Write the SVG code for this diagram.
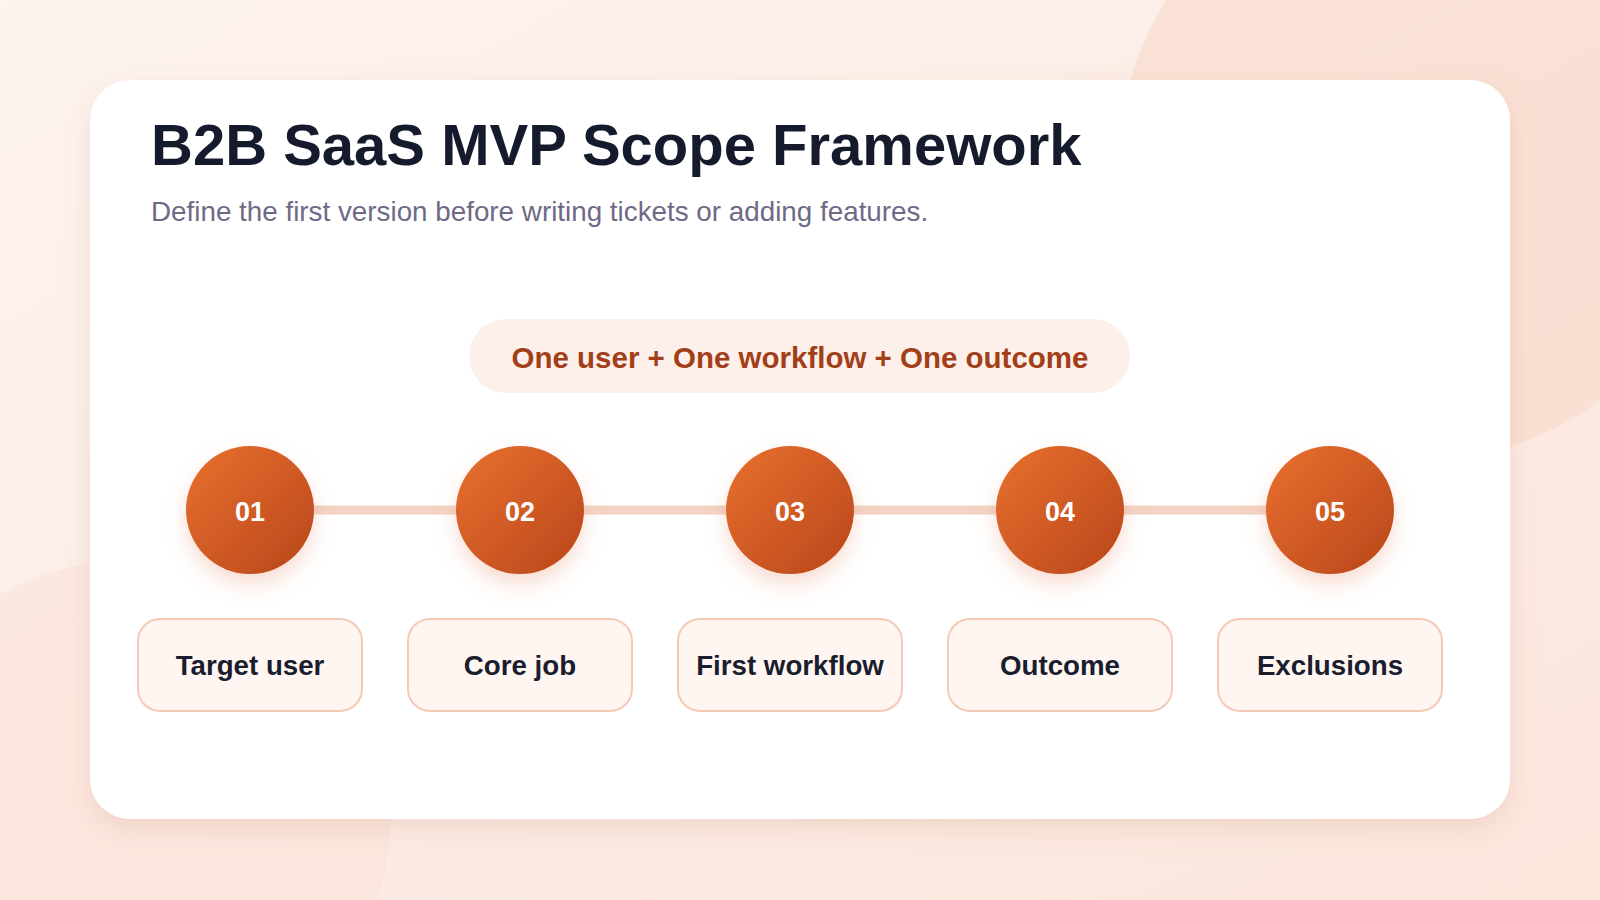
<svg xmlns="http://www.w3.org/2000/svg" width="1600" height="900" viewBox="0 0 1600 900">
<defs>
<linearGradient id="bg" x1="0" y1="0" x2="1" y2="1"><stop offset="0" stop-color="#fdf3ef"/><stop offset="1" stop-color="#fbe6dc"/></linearGradient>
<linearGradient id="cg" x1="0" y1="0" x2="1" y2="1"><stop offset="0" stop-color="#e8702f"/><stop offset="1" stop-color="#b9461b"/></linearGradient>
<filter id="sh" x="-10%" y="-10%" width="120%" height="130%"><feDropShadow dx="0" dy="10" stdDeviation="14" flood-color="#c9907a" flood-opacity="0.22"/></filter>
<filter id="csh" x="-50%" y="-50%" width="200%" height="200%"><feDropShadow dx="0" dy="10" stdDeviation="10" flood-color="#e0714a" flood-opacity="0.25"/></filter>
<style>
.t{font-family:"Liberation Sans",Arial,sans-serif}
.num{font-family:"Liberation Sans",Arial,sans-serif;font-weight:bold;font-size:27px;fill:#fff;text-anchor:middle}
.box{fill:#fff6f2;stroke:#f6c9b6;stroke-width:2}
.lbl{font-family:"Liberation Sans",Arial,sans-serif;font-weight:bold;font-size:27.7px;fill:#1a1d2e;text-anchor:middle}
</style>
</defs>
<rect width="1600" height="900" fill="url(#bg)"/>
<circle cx="1420" cy="160" r="300" fill="#f9dccd" opacity="0.7"/>
<circle cx="130" cy="820" r="260" fill="#fae3d8" opacity="0.6"/>
<rect x="90" y="80" width="1420" height="739" rx="40" fill="#fff" filter="url(#sh)"/>
<text class="t" x="151" y="165" font-size="58" font-weight="bold" fill="#161a2d">B2B SaaS MVP Scope Framework</text>
<text class="t" x="151" y="221" font-size="27.8" fill="#6e6a86">Define the first version before writing tickets or adding features.</text>
<g id="pill"><rect x="469" y="319" width="661" height="74" rx="37" fill="#fdf0ea"/>
<text class="t" x="800" y="368" font-size="29.5" font-weight="bold" fill="#a23f18" text-anchor="middle">One user + One workflow + One outcome</text></g>
<g id="connectors"><line x1="250" y1="510" x2="1330" y2="510" stroke="#f3d3c3" stroke-width="9"/></g>
<g id="n1"><circle cx="250" cy="510" r="64" fill="url(#cg)" filter="url(#csh)"/><text class="num" x="250" y="521">01</text><rect class="box" x="138" y="619" width="224" height="92" rx="22"/><text class="lbl" x="250" y="675">Target user</text></g>
<g id="n2"><circle cx="520" cy="510" r="64" fill="url(#cg)" filter="url(#csh)"/><text class="num" x="520" y="521">02</text><rect class="box" x="408" y="619" width="224" height="92" rx="22"/><text class="lbl" x="520" y="675">Core job</text></g>
<g id="n3"><circle cx="790" cy="510" r="64" fill="url(#cg)" filter="url(#csh)"/><text class="num" x="790" y="521">03</text><rect class="box" x="678" y="619" width="224" height="92" rx="22"/><text class="lbl" x="790" y="675">First workflow</text></g>
<g id="n4"><circle cx="1060" cy="510" r="64" fill="url(#cg)" filter="url(#csh)"/><text class="num" x="1060" y="521">04</text><rect class="box" x="948" y="619" width="224" height="92" rx="22"/><text class="lbl" x="1060" y="675">Outcome</text></g>
<g id="n5"><circle cx="1330" cy="510" r="64" fill="url(#cg)" filter="url(#csh)"/><text class="num" x="1330" y="521">05</text><rect class="box" x="1218" y="619" width="224" height="92" rx="22"/><text class="lbl" x="1330" y="675">Exclusions</text></g>
</svg>
